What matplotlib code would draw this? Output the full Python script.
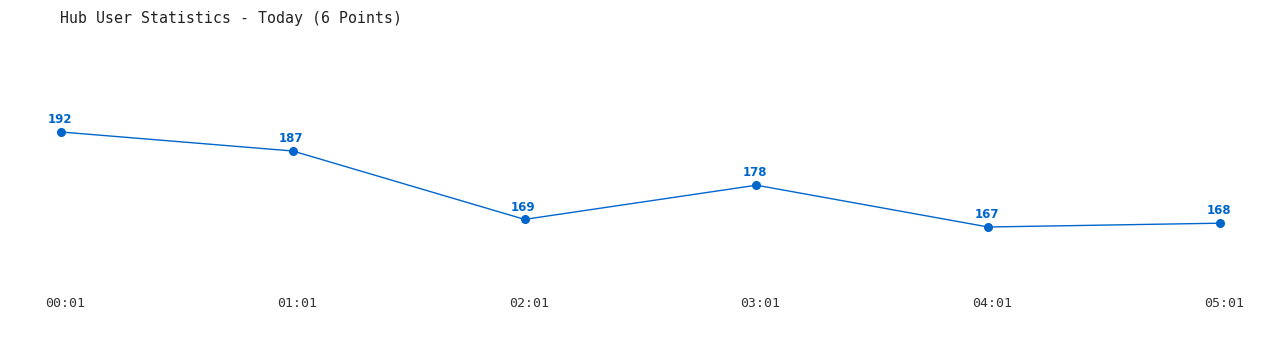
import matplotlib
matplotlib.use("Agg")
import matplotlib.pyplot as plt

times = ["00:01", "01:01", "02:01", "03:01", "04:01", "05:01"]
users = [192, 187, 169, 178, 167, 168]
title = "Hub User Statistics - Today (6 Points)"

color = "#0066cc"
fig = plt.figure(figsize=(12.8, 3.5), dpi=100)
ax = fig.add_axes([61/1280, 0.2, (1220-61)/1280, 0.6286])
x = list(range(len(times)))
ax.plot(x, users, color=color, lw=1.0, marker="o", ms=5.5, zorder=3, clip_on=False)
for xi, v in zip(x, users):
    ax.annotate(str(v), (xi, v), xytext=(-1, 4.2), textcoords="offset points",
                ha="center", va="bottom", color=color, fontsize=8.5,
                fontweight="bold", family="DejaVu Sans")
for xi, t in zip(x, times):
    ax.annotate(t, (xi, 0), xycoords=ax.get_xaxis_transform(),
                xytext=(3, -17), textcoords="offset points",
                ha="center", va="center", family="DejaVu Sans Mono",
                fontsize=9.5, color="#333333", annotation_clip=False)
ax.set_xlim(0, len(times) - 1)
ax.set_ylim(153.05, 210.95)
ax.set_xticks([])
ax.set_yticks([])
for s in ax.spines.values():
    s.set_visible(False)
fig.text(60/1280, 1 - 18/350, title, family="DejaVu Sans Mono", fontsize=10.75,
         color="#222222", va="center", ha="left")
fig.savefig("out.png", dpi=100, facecolor="white")
